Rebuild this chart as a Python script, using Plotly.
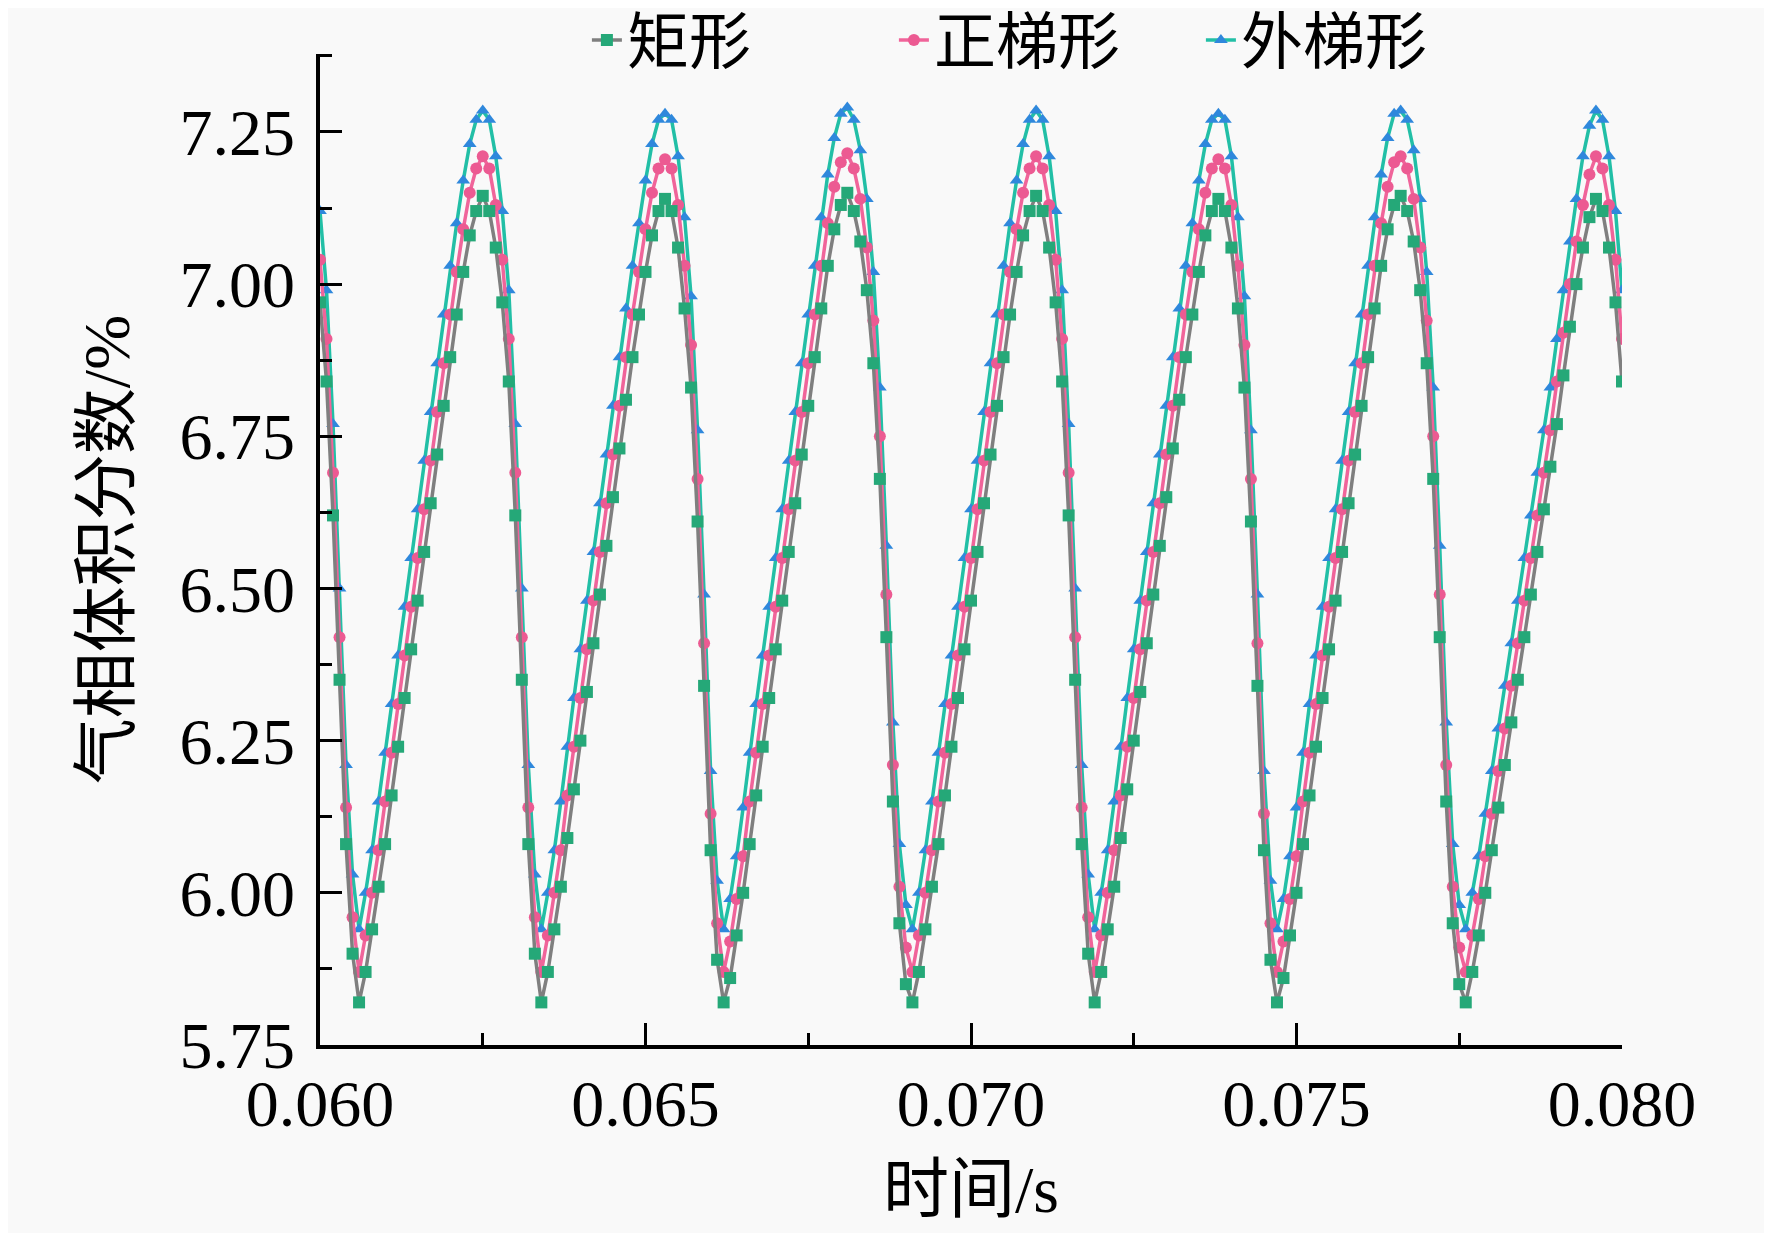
import plotly.graph_objects as go

# sampling of the time axis (s)
t_start = 0.060
t_step = 0.0001

names = ["矩形", "正梯形", "外梯形"]

# 矩形
rect = [
    6.97, 6.84, 6.62, 6.35, 6.08, 5.90, 5.82,
    5.87, 5.94, 6.01, 6.08, 6.16, 6.24, 6.32, 6.40, 6.48, 6.56, 6.64, 6.72, 6.80, 6.88, 6.95, 7.02, 7.08, 7.12, 7.145,
    7.12, 7.06, 6.97, 6.84, 6.62, 6.35, 6.08, 5.90, 5.82,
    5.87, 5.94, 6.01, 6.09, 6.17, 6.25, 6.33, 6.41, 6.49, 6.57, 6.65, 6.73, 6.81, 6.88, 6.95, 7.02, 7.08, 7.12, 7.14,
    7.12, 7.06, 6.96, 6.83, 6.61, 6.34, 6.07, 5.89, 5.82,
    5.86, 5.93, 6.00, 6.08, 6.16, 6.24, 6.32, 6.40, 6.48, 6.56, 6.64, 6.72, 6.80, 6.88, 6.96, 7.03, 7.09, 7.13, 7.15,
    7.12, 7.07, 6.99, 6.87, 6.68, 6.42, 6.15, 5.95, 5.85, 5.82,
    5.87, 5.94, 6.01, 6.08, 6.16, 6.24, 6.32, 6.40, 6.48, 6.56, 6.64, 6.72, 6.80, 6.88, 6.95, 7.02, 7.08, 7.12, 7.145,
    7.12, 7.06, 6.97, 6.84, 6.62, 6.35, 6.08, 5.90, 5.82,
    5.87, 5.94, 6.01, 6.09, 6.17, 6.25, 6.33, 6.41, 6.49, 6.57, 6.65, 6.73, 6.81, 6.88, 6.95, 7.02, 7.08, 7.12, 7.14,
    7.12, 7.06, 6.96, 6.83, 6.61, 6.34, 6.07, 5.89, 5.82,
    5.86, 5.93, 6.00, 6.08, 6.16, 6.24, 6.32, 6.40, 6.48, 6.56, 6.64, 6.72, 6.80, 6.88, 6.96, 7.03, 7.09, 7.13, 7.145,
    7.12, 7.07, 6.99, 6.87, 6.68, 6.42, 6.15, 5.95, 5.85, 5.82,
    5.87, 5.93, 6.00, 6.07, 6.14, 6.21, 6.28, 6.35, 6.42, 6.49, 6.56, 6.63, 6.70, 6.77, 6.85, 6.93, 7.00, 7.06, 7.11, 7.14,
    7.12, 7.06, 6.97, 6.84,
]

# 正梯形
trap = [
    7.04, 6.91, 6.69, 6.42, 6.14, 5.96, 5.87,
    5.93, 6.00, 6.07, 6.15, 6.23, 6.31, 6.39, 6.47, 6.55, 6.63, 6.71, 6.79, 6.87, 6.95, 7.02, 7.09, 7.15, 7.19, 7.21,
    7.19, 7.13, 7.04, 6.91, 6.69, 6.42, 6.14, 5.96, 5.87,
    5.93, 6.00, 6.07, 6.16, 6.24, 6.32, 6.40, 6.48, 6.56, 6.64, 6.72, 6.80, 6.88, 6.95, 7.02, 7.09, 7.15, 7.19, 7.205,
    7.19, 7.13, 7.03, 6.90, 6.68, 6.41, 6.13, 5.95, 5.87,
    5.92, 5.99, 6.06, 6.15, 6.23, 6.31, 6.39, 6.47, 6.55, 6.63, 6.71, 6.79, 6.87, 6.95, 7.03, 7.10, 7.16, 7.20, 7.215,
    7.19, 7.14, 7.06, 6.94, 6.75, 6.49, 6.21, 6.01, 5.91, 5.87,
    5.93, 6.00, 6.07, 6.15, 6.23, 6.31, 6.39, 6.47, 6.55, 6.63, 6.71, 6.79, 6.87, 6.95, 7.02, 7.09, 7.15, 7.19, 7.21,
    7.19, 7.13, 7.04, 6.91, 6.69, 6.42, 6.14, 5.96, 5.87,
    5.93, 6.00, 6.07, 6.16, 6.24, 6.32, 6.40, 6.48, 6.56, 6.64, 6.72, 6.80, 6.88, 6.95, 7.02, 7.09, 7.15, 7.19, 7.205,
    7.19, 7.13, 7.03, 6.90, 6.68, 6.41, 6.13, 5.95, 5.87,
    5.92, 5.99, 6.06, 6.15, 6.23, 6.31, 6.39, 6.47, 6.55, 6.63, 6.71, 6.79, 6.87, 6.95, 7.03, 7.10, 7.16, 7.20, 7.21,
    7.19, 7.14, 7.06, 6.94, 6.75, 6.49, 6.21, 6.01, 5.91, 5.87,
    5.93, 5.99, 6.06, 6.13, 6.20, 6.27, 6.34, 6.41, 6.48, 6.55, 6.62, 6.69, 6.76, 6.84, 6.92, 7.00, 7.07, 7.13, 7.18, 7.21,
    7.19, 7.13, 7.04, 6.91,
]

# 外梯形
outer = [
    7.12, 6.99, 6.77, 6.50, 6.21, 6.03, 5.94,
    6.00, 6.07, 6.15, 6.23, 6.31, 6.39, 6.47, 6.55, 6.63, 6.71, 6.79, 6.87, 6.95, 7.03, 7.10, 7.17, 7.23, 7.27, 7.285,
    7.27, 7.21, 7.12, 6.99, 6.77, 6.50, 6.21, 6.03, 5.94,
    6.00, 6.07, 6.15, 6.24, 6.32, 6.40, 6.48, 6.56, 6.64, 6.72, 6.80, 6.88, 6.96, 7.03, 7.10, 7.17, 7.23, 7.27, 7.28,
    7.27, 7.21, 7.11, 6.98, 6.76, 6.49, 6.20, 6.02, 5.94,
    5.99, 6.06, 6.14, 6.23, 6.31, 6.39, 6.47, 6.55, 6.63, 6.71, 6.79, 6.87, 6.95, 7.03, 7.11, 7.18, 7.24, 7.28, 7.29,
    7.27, 7.22, 7.14, 7.02, 6.83, 6.57, 6.28, 6.08, 5.98, 5.94,
    6.00, 6.07, 6.15, 6.23, 6.31, 6.39, 6.47, 6.55, 6.63, 6.71, 6.79, 6.87, 6.95, 7.03, 7.10, 7.17, 7.23, 7.27, 7.285,
    7.27, 7.21, 7.12, 6.99, 6.77, 6.50, 6.21, 6.03, 5.94,
    6.00, 6.07, 6.15, 6.24, 6.32, 6.40, 6.48, 6.56, 6.64, 6.72, 6.80, 6.88, 6.96, 7.03, 7.10, 7.17, 7.23, 7.27, 7.28,
    7.27, 7.21, 7.11, 6.98, 6.76, 6.49, 6.20, 6.02, 5.94,
    5.99, 6.06, 6.14, 6.23, 6.31, 6.39, 6.47, 6.55, 6.63, 6.71, 6.79, 6.87, 6.95, 7.03, 7.11, 7.18, 7.24, 7.28, 7.285,
    7.27, 7.22, 7.14, 7.02, 6.83, 6.57, 6.28, 6.08, 5.98, 5.94,
    6.00, 6.06, 6.13, 6.20, 6.27, 6.34, 6.41, 6.48, 6.55, 6.62, 6.69, 6.76, 6.83, 6.91, 6.99, 7.07, 7.14, 7.21, 7.26, 7.285,
    7.27, 7.21, 7.12, 6.99,
]

series = [rect, trap, outer]
line_colors = ["#7f7f7f", "#f0649a", "#22bfa6"]
marker_colors = ["#25a878", "#ec5a92", "#2f88dc"]
symbols = ["square", "circle", "triangle-up"]

serif = "Liberation Serif, Times New Roman, serif"
cjk = "Liberation Serif, Noto Sans CJK SC, sans-serif"

fig = go.Figure()

# drawn back to front so 矩形 ends up on top, legend order flipped back
for i in [2, 1, 0]:
    fig.add_trace(go.Scatter(
        x0=t_start,
        dx=t_step,
        y=series[i],
        mode="lines+markers",
        name=names[i],
        line=dict(color=line_colors[i], width=3.5),
        marker=dict(color=marker_colors[i], size=12, symbol=symbols[i]),
    ))

axis_style = dict(
    showline=True,
    linecolor="black",
    linewidth=3.5,
    showgrid=False,
    zeroline=False,
    ticks="inside",
    ticklen=22,
    tickwidth=3,
    tickcolor="black",
    tickfont=dict(family=serif, size=66, color="black"),
)

# page body has an 8px margin, so the margins below are 8px short on left/top
fig.update_layout(
    width=1772,
    height=1233,
    paper_bgcolor="#f9f9f9",
    plot_bgcolor="#f9f9f9",
    margin=dict(l=312, r=158, t=46, b=196, autoexpand=False),
    showlegend=True,
    legend=dict(
        orientation="h",
        traceorder="reversed",
        x=0.205,
        xanchor="left",
        y=1.014,
        yanchor="middle",
        font=dict(family=cjk, size=62, color="black"),
        bgcolor="rgba(0,0,0,0)",
        entrywidth=262,
        entrywidthmode="pixels",
    ),
)

fig.update_xaxes(
    axis_style,
    range=[0.060, 0.080],
    tick0=0.060,
    dtick=0.005,
    tickformat=".3f",
    ticklabelstandoff=-2,
    minor=dict(dtick=0.0025, ticks="inside", ticklen=12, tickwidth=3, tickcolor="black"),
    title=dict(text="时间/s", font=dict(family=cjk, size=66, color="black"), standoff=28),
)

fig.update_yaxes(
    axis_style,
    range=[5.75, 7.378],
    tick0=5.75,
    dtick=0.25,
    tickformat=".2f",
    ticklabelstandoff=8,
    minor=dict(dtick=0.125, ticks="inside", ticklen=12, tickwidth=3, tickcolor="black"),
    title=dict(text="气相体积分数/%", font=dict(family=cjk, size=66, color="black"), standoff=29),
)

fig.write_html("out.html")
